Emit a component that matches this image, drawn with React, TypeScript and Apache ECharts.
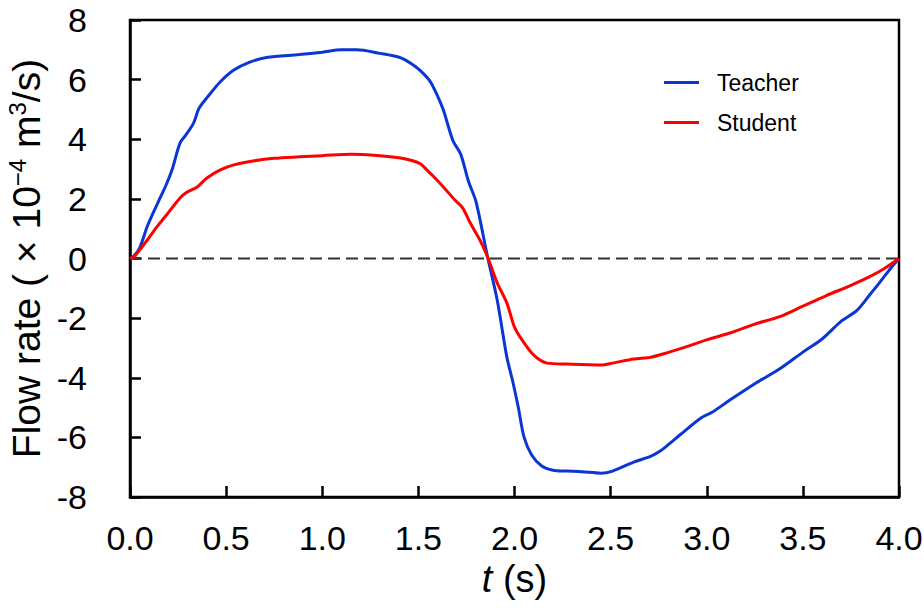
import React, { useEffect, useRef } from "react";
import * as echarts from "echarts";

const teacher: [number, number][] = [
  [0, 0], [0.02, 0.08], [0.05, 0.35], [0.09, 1.08], [0.12, 1.52], [0.16, 2.08], [0.19, 2.5],
  [0.22, 3.0], [0.26, 3.87], [0.29, 4.14], [0.33, 4.53], [0.36, 5.05], [0.42, 5.55], [0.47, 5.93],
  [0.54, 6.32], [0.62, 6.58], [0.71, 6.74], [0.88, 6.84], [1.0, 6.92], [1.1, 7.0], [1.18, 7.0],
  [1.3, 6.88], [1.4, 6.75], [1.46, 6.55], [1.51, 6.3], [1.56, 5.95], [1.6, 5.45], [1.63, 4.98],
  [1.68, 3.95], [1.72, 3.5], [1.76, 2.6], [1.8, 1.9], [1.86, 0.05], [1.91, -1.39], [1.96, -3.3],
  [1.99, -4.1], [2.02, -5.0], [2.05, -6.0], [2.09, -6.6], [2.14, -6.95], [2.2, -7.1], [2.27, -7.13],
  [2.35, -7.15], [2.45, -7.2], [2.51, -7.13], [2.62, -6.83], [2.71, -6.63], [2.76, -6.45],
  [2.81, -6.19], [2.86, -5.92], [2.97, -5.35], [3.03, -5.15], [3.12, -4.75], [3.25, -4.2],
  [3.38, -3.7], [3.5, -3.14], [3.6, -2.7], [3.7, -2.1], [3.78, -1.75], [3.85, -1.2], [3.9, -0.8],
  [3.96, -0.3], [4.0, 0],
];

const student: [number, number][] = [
  [0, 0], [0.02, 0.05], [0.05, 0.28], [0.09, 0.62], [0.14, 1.06], [0.19, 1.46], [0.26, 2.03],
  [0.29, 2.2], [0.35, 2.4], [0.4, 2.7], [0.47, 2.97], [0.54, 3.14], [0.64, 3.27], [0.75, 3.36],
  [0.88, 3.41], [1.0, 3.45], [1.15, 3.5], [1.3, 3.45], [1.4, 3.38], [1.47, 3.28], [1.51, 3.18],
  [1.54, 3.0], [1.58, 2.74], [1.63, 2.4], [1.69, 1.96], [1.73, 1.7], [1.77, 1.19], [1.82, 0.62],
  [1.86, 0.05], [1.91, -0.82], [1.96, -1.49], [2.0, -2.3], [2.04, -2.74], [2.1, -3.24],
  [2.17, -3.51], [2.27, -3.54], [2.45, -3.57], [2.51, -3.51], [2.62, -3.37], [2.71, -3.31],
  [2.8, -3.15], [2.9, -2.95], [3.0, -2.73], [3.12, -2.5], [3.25, -2.2], [3.38, -1.95],
  [3.5, -1.6], [3.62, -1.25], [3.75, -0.9], [3.85, -0.6], [3.92, -0.35], [4.0, 0],
];

const zeroLine: [number, number][] = [[0, 0], [4, 0]];

const seriesNames = ["Teacher", "Student"];
const xRange = { min: 0, max: 4, step: 0.5 };
const yRange = { min: -8, max: 8, step: 2 };

const FONT = "'Liberation Sans', Arial, Helvetica, sans-serif";

export default function App() {
  const ref = useRef<HTMLDivElement>(null);
  useEffect(() => {
    document.body.style.margin = "0";
    if (!ref.current) return;
    const chart = echarts.init(ref.current, null, { renderer: "svg" });
    chart.setOption({
      animation: false,
      backgroundColor: "#ffffff",
      textStyle: { fontFamily: FONT },
      grid: {
        left: 130, right: 25, top: 20, bottom: 112,
        containLabel: false,
        outerBoundsMode: "none",
        show: true, borderColor: "#000", borderWidth: 2.5, backgroundColor: "transparent",
      },
      legend: {
        orient: "vertical",
        left: 659, top: 66,
        itemWidth: 35, itemHeight: 3, itemGap: 17,
        icon: "rect",
        data: seriesNames,
        textStyle: { fontSize: 23, color: "#000", fontFamily: FONT, padding: [0, 0, 0, 13] },
      },
      xAxis: {
        type: "value",
        min: xRange.min, max: xRange.max, interval: xRange.step,
        axisLine: { show: true, onZero: false, lineStyle: { color: "#000", width: 2.5 } },
        axisTick: { show: true, inside: true, length: 11, lineStyle: { color: "#000", width: 2.5 } },
        splitLine: { show: false },
        axisLabel: {
          fontSize: 34, color: "#000", margin: 24, fontFamily: FONT,
          formatter: (v: number) => v.toFixed(1),
        },
        name: "{i|t}{a| (s)}",
        nameLocation: "middle",
        nameGap: 62,
        nameTextStyle: {
          rich: {
            i: { fontSize: 38, fontStyle: "italic", color: "#000", fontFamily: FONT },
            a: { fontSize: 38, color: "#000", fontFamily: FONT },
          },
        },
      },
      yAxis: {
        type: "value",
        min: yRange.min, max: yRange.max, interval: yRange.step,
        axisLine: { show: true, onZero: false, lineStyle: { color: "#000", width: 2.5 } },
        axisTick: { show: true, inside: true, length: 11, lineStyle: { color: "#000", width: 2.5 } },
        splitLine: { show: false },
        axisLabel: {
          fontSize: 34, color: "#000", margin: 43, fontFamily: FONT,
          formatter: (v: number) => String(v),
        },
        name: "{a|Flow rate ( × 10}{s|−4}{a| m}{s|3}{a|/s)}",
        nameLocation: "middle",
        nameGap: 80,
        nameTextStyle: {
          rich: {
            a: { fontSize: 39, color: "#000", fontFamily: FONT, lineHeight: 40, verticalAlign: "bottom" },
            s: { fontSize: 24, color: "#000", fontFamily: FONT, lineHeight: 22, verticalAlign: "top" },
          },
        },
      },
      series: [
        {
          name: "zero",
          type: "line",
          data: zeroLine,
          showSymbol: false,
          symbol: "none",
          silent: true,
          lineStyle: { color: "#333", width: 2, type: [12, 6] },
          z: 2,
        },
        {
          name: seriesNames[0],
          type: "line",
          data: teacher,
          showSymbol: false,
          symbol: "none",
          smooth: 0.3,
          lineStyle: { color: "#0a37d2", width: 3 },
          itemStyle: { color: "#0a37d2" },
          z: 3,
        },
        {
          name: seriesNames[1],
          type: "line",
          data: student,
          showSymbol: false,
          symbol: "none",
          smooth: 0.3,
          lineStyle: { color: "#ff0000", width: 3 },
          itemStyle: { color: "#ff0000" },
          z: 4,
        },
      ],
    });
    return () => chart.dispose();
  }, []);
  return <div ref={ref} style={{ width: 924, height: 609 }} />;
}
